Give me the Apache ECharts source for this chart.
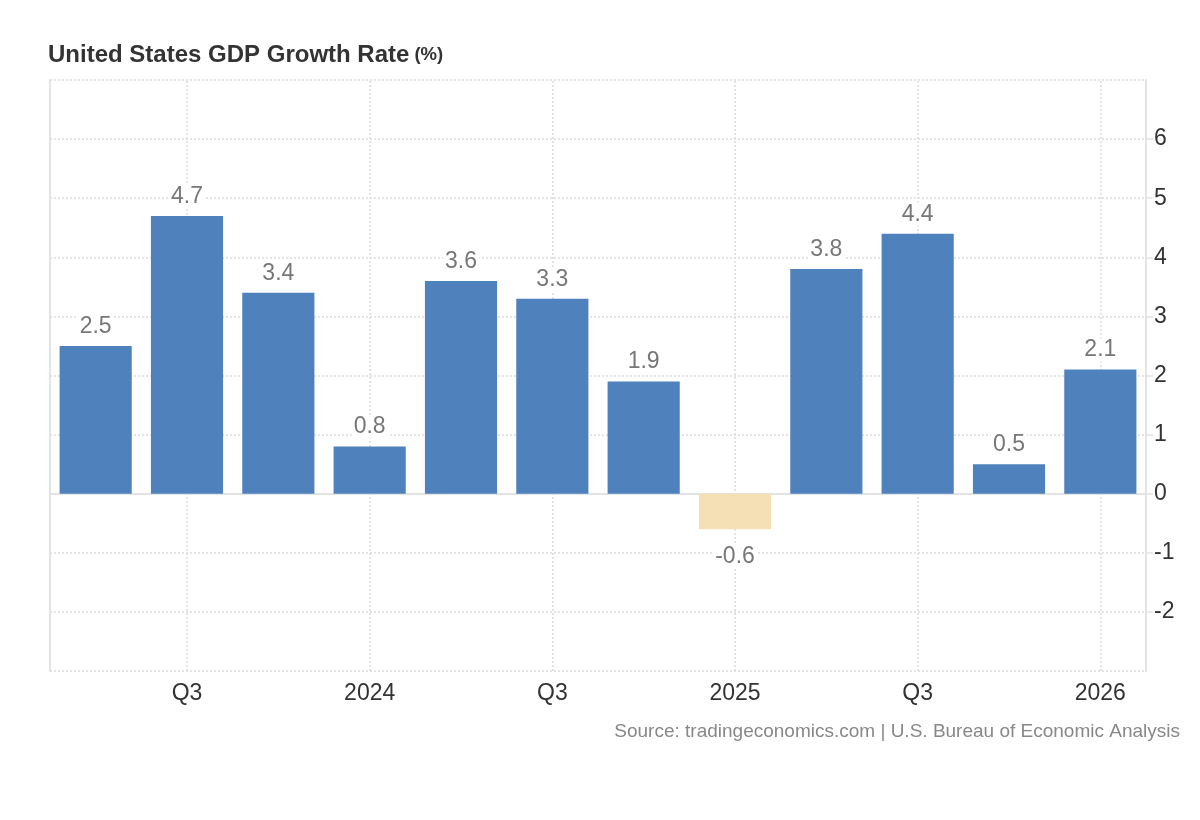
<!DOCTYPE html>
<html>
<head>
<meta charset="utf-8">
<script src="https://cdn.jsdelivr.net/npm/echarts@6/dist/echarts.min.js"></script>
<style>html,body{margin:0;padding:0;background:#fff;}#c{width:1200px;height:820px;}</style>
</head>
<body>
<div id="c"></div>
<script>
const categories = ['2023 Q2','2023 Q3','2023 Q4','2024 Q1','2024 Q2','2024 Q3','2024 Q4','2025 Q1','2025 Q2','2025 Q3','2025 Q4','2026 Q1'];
const tickLabels = ['', 'Q3', '', '2024', '', 'Q3', '', '2025', '', 'Q3', '', '2026'];
const growth = [2.5, 4.7, 3.4, 0.8, 3.6, 3.3, 1.9, -0.6, 3.8, 4.4, 0.5, 2.1];
const gridIdx = [1, 3, 5, 7, 9, 11];

const POS = '#4f81bd', NEG = '#f5dfb5';
const chart = echarts.init(document.getElementById('c'));
const barData = growth.map(v => ({
  value: v,
  itemStyle: { color: v < 0 ? NEG : POS },
  label: { position: v < 0 ? 'bottom' : 'top', distance: v < 0 ? 16 : 8 }
}));

chart.setOption({
  animation: false,
  backgroundColor: '#fff',
  title: {
    text: '{a|United States GDP Growth Rate} {b|(%)}',
    left: 43, top: 38,
    textStyle: {
      rich: {
        a: { fontFamily: 'Liberation Sans', fontSize: 24, fontWeight: 'bold', color: '#333' },
        b: { fontFamily: 'Liberation Sans', fontSize: 18.5, fontWeight: 'bold', color: '#333' }
      }
    }
  },
  graphic: [{
    type: 'text', right: 20, top: 722,
    style: { text: 'Source: tradingeconomics.com | U.S. Bureau of Economic Analysis', fontFamily: 'Liberation Sans', fontSize: 19, fill: '#888' }
  }],
  grid: { left: 50, right: 54, top: 80, bottom: 149, containLabel: false },
  xAxis: {
    type: 'category', data: categories,
    axisLine: { show: true, lineStyle: { color: '#e3e3e3', width: 2 } },
    axisTick: { show: false },
    axisLabel: { interval: 0, margin: 11, fontFamily: 'Liberation Sans', fontSize: 23, color: '#333',
      formatter: (v, i) => tickLabels[i] },
    splitLine: { show: false }
  },
  yAxis: [{
    type: 'value', position: 'right', min: -3, max: 7, interval: 1,
    axisLine: { show: true, lineStyle: { color: '#e3e3e3', width: 2 } },
    axisTick: { show: true, length: 18, lineStyle: { color: '#e3e3e3', width: 1.5 } },
    axisLabel: { showMinLabel: false, showMaxLabel: false, margin: 7, fontFamily: 'Liberation Sans', fontSize: 23, color: '#333',
      backgroundColor: '#fff', padding: [0, 2, 0, 1] },
    splitLine: { show: true, lineStyle: { color: '#dcdcdc', type: [2, 2], width: 1.5 } }
  }, {
    type: 'value', position: 'left', min: -3, max: 7, interval: 1,
    axisLine: { show: true, onZero: false, lineStyle: { color: '#e3e3e3', width: 2 } },
    axisTick: { show: false }, axisLabel: { show: false }, splitLine: { show: false }
  }],
  series: [{
    type: 'bar', data: barData, barCategoryGap: '21%', z: 3,
    label: { show: true, fontFamily: 'Liberation Sans', fontSize: 23, color: '#777', backgroundColor: '#fff', padding: [0, 2] },
    markLine: {
      silent: true, symbol: ['none', 'none'], z: 1,
      label: { show: false },
      lineStyle: { color: '#dcdcdc', type: [2, 2], width: 1.5 },
      data: gridIdx.map(i => ({ xAxis: i }))
    }
  }]
});
</script>
</body>
</html>
